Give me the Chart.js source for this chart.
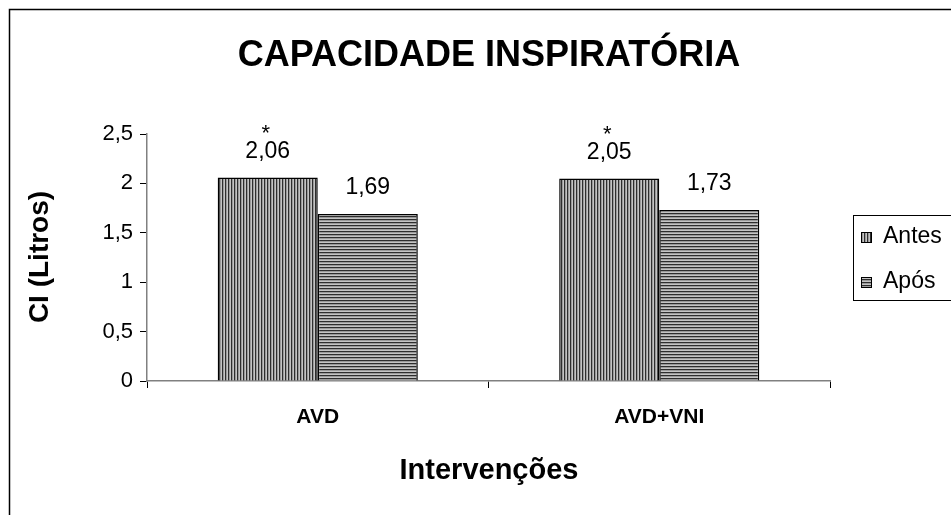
<!DOCTYPE html>
<html>
<head>
<meta charset="utf-8">
<script src="https://cdn.jsdelivr.net/npm/chart.js@4.4.0/dist/chart.umd.min.js"></script>
<style>
  html, body { margin: 0; padding: 0; background: #fff; }
  #wrap { width: 951px; height: 515px; position: relative; }
</style>
</head>
<body>
<div id="wrap"><canvas id="chart" width="951" height="515"></canvas></div>
<script>
// Capacidade inspiratória - antes / após
const categories = ['AVD', 'AVD+VNI'];
const antes = [2.06, 2.05];
const apos = [1.69, 1.73];
const antesMarks = ['*', '*'];
const aposMarks = ['', ''];
const yTicks = [0, 0.5, 1, 1.5, 2, 2.5];

const FONT = '"Liberation Sans", Arial, sans-serif';

function stripePattern(vertical) {
  const c = document.createElement('canvas');
  c.width = 3; c.height = 3;
  const g = c.getContext('2d');
  const cols = ['#2e2e2e', '#9a9a9a', '#c4c4c4'];
  cols.forEach((col, i) => {
    g.fillStyle = col;
    if (vertical) g.fillRect(i, 0, 1, 3);
    else g.fillRect(0, i, 3, 1);
  });
  return g.createPattern(c, 'repeat');
}

const fmt = v => String(v).replace('.', ',');

const frameAndText = {
  id: 'frameAndText',
  beforeDraw(chart) {
    const ctx = chart.ctx;
    ctx.save();
    ctx.fillStyle = '#fff';
    ctx.fillRect(0, 0, chart.width, chart.height);
    ctx.strokeStyle = '#000';
    ctx.lineWidth = 1.5;
    ctx.strokeRect(9.5, 9.5, chart.width + 20, chart.height + 20);
    ctx.restore();
  },
  afterDraw(chart) {
    const ctx = chart.ctx;
    ctx.save();
    ctx.fillStyle = '#000';
    ctx.textAlign = 'center';
    ctx.textBaseline = 'middle';
    ctx.font = 'bold 36px ' + FONT;
    ctx.fillText('CAPACIDADE INSPIRATÓRIA', 489, 56);
    ctx.font = 'bold 29px ' + FONT;
    ctx.fillText('Intervenções', 489, 471);
    ctx.save();
    ctx.translate(40, 257);
    ctx.rotate(-Math.PI / 2);
    ctx.font = 'bold 28px ' + FONT;
    ctx.fillText('CI (Litros)', 0, 0);
    ctx.restore();

    // value labels
    const marks = [antesMarks, aposMarks];
    chart.data.datasets.forEach((ds, di) => {
      chart.getDatasetMeta(di).data.forEach((bar, i) => {
        ctx.font = '23px ' + FONT;
        ctx.fillText(fmt(ds.data[i]), bar.x, bar.y - 26);
        if (marks[di][i]) {
          ctx.font = '22px ' + FONT;
          ctx.fillText(marks[di][i], bar.x - 2, bar.y - 44);
        }
      });
    });

    // legend
    ctx.strokeStyle = '#000';
    ctx.lineWidth = 1;
    ctx.strokeRect(853.5, 215.5, 120, 85);
    ctx.textAlign = 'left';
    ctx.font = '23px ' + FONT;
    chart.data.datasets.forEach((ds, di) => {
      const y = 237 + di * 45;
      ctx.fillStyle = ds.backgroundColor;
      ctx.fillRect(861, y - 5, 11, 11);
      ctx.strokeStyle = '#000';
      ctx.strokeRect(861.5, y - 4.5, 10, 10);
      ctx.fillStyle = '#000';
      ctx.fillText(ds.label, 883, y);
    });
    ctx.restore();
  }
};

new Chart(document.getElementById('chart'), {
  type: 'bar',
  data: {
    labels: categories,
    datasets: [
      { label: 'Antes', data: antes, backgroundColor: stripePattern(true), borderColor: '#000', borderWidth: 1.5 },
      { label: 'Após', data: apos, backgroundColor: stripePattern(false), borderColor: '#000', borderWidth: 1.5 }
    ]
  },
  options: {
    responsive: false,
    animation: false,
    events: [],
    layout: { padding: { left: 87, top: 134, right: 121, bottom: 74 } },
    datasets: { bar: { barPercentage: 1, categoryPercentage: 0.586 } },
    plugins: { legend: { display: false }, title: { display: false }, tooltip: { enabled: false } },
    scales: {
      x: {
        afterFit: s => { s.height = 60; },
        grid: { drawOnChartArea: false, offset: true, tickLength: 7, color: '#000' },
        border: { color: '#808080', width: 1.5 },
        ticks: { color: '#000', padding: 17, font: { family: FONT, size: 21, weight: 'bold' } }
      },
      y: {
        min: 0, max: 2.5,
        afterFit: s => { s.width = 60; },
        afterBuildTicks: s => { s.ticks = yTicks.map(v => ({ value: v })); },
        grid: { drawOnChartArea: false, tickLength: 7, color: '#000' },
        border: { color: '#808080', width: 1.5 },
        ticks: { color: '#000', padding: 7, font: { family: FONT, size: 22 }, callback: v => fmt(v) }
      }
    }
  },
  plugins: [frameAndText]
});
</script>
</body>
</html>
